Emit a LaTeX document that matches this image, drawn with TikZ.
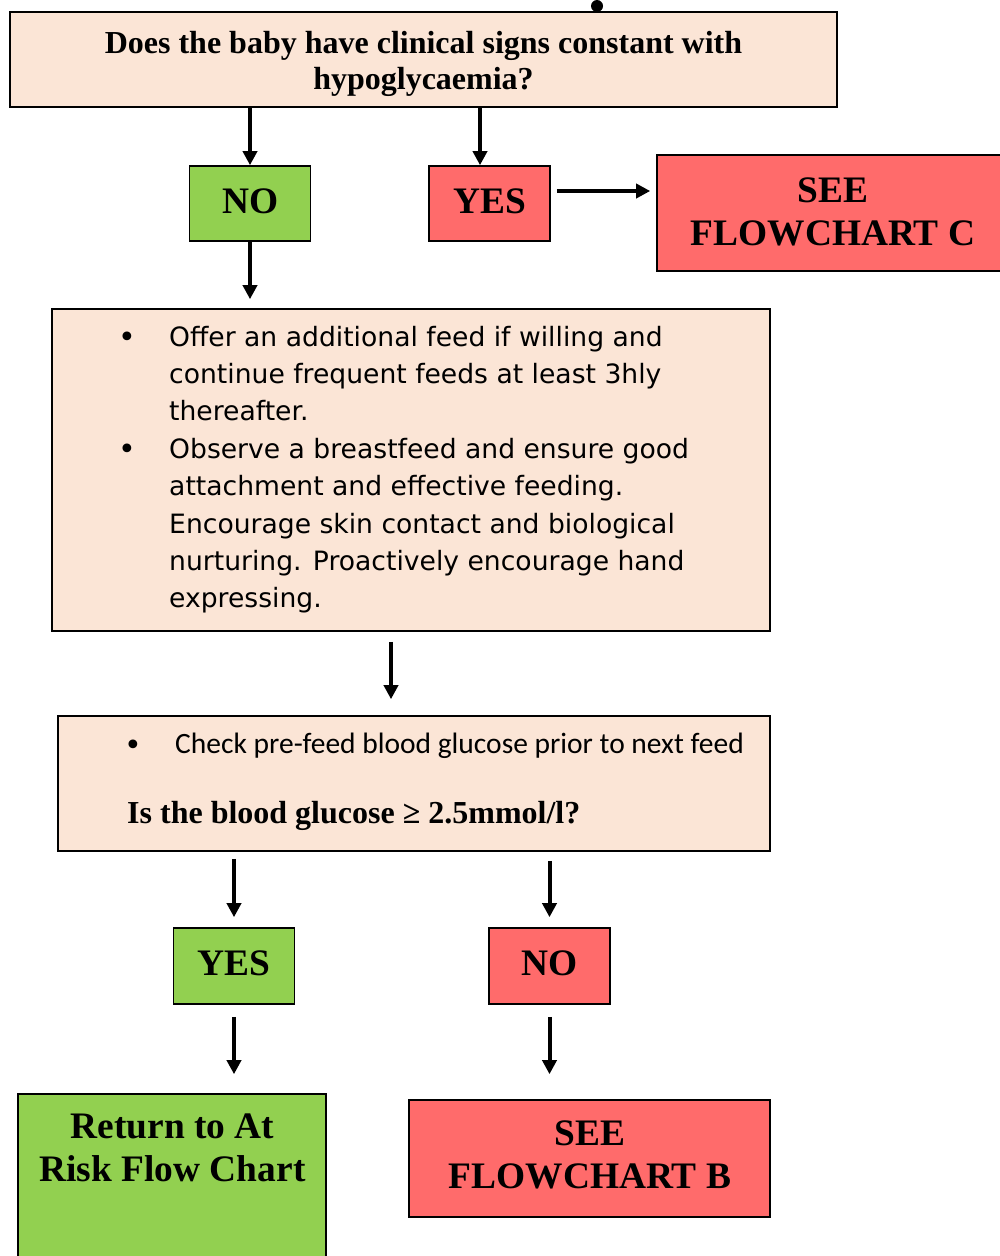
\documentclass[tikz,border=0pt]{standalone}
\usepackage{fontspec}
\setmainfont{Liberation Serif}
\newfontfamily\verdfont{DejaVu Sans}
\newfontfamily\calibfont{Carlito}
\usetikzlibrary{arrows.meta}
\definecolor{peach}{HTML}{FBE5D6}
\definecolor{redbox}{HTML}{FF6B6B}
\definecolor{greenbox}{HTML}{92D050}
\begin{document}
\begin{tikzpicture}[x=1pt,y=-1pt,
  box/.style={draw=black, line width=1.6pt, inner sep=0pt, rectangle},
  peachbox/.style={box, fill=peach},
  redb/.style={box, fill=redbox},
  greenb/.style={box, fill=greenbox},
  arr/.style={line width=4pt, -{Triangle[length=14pt,width=14pt]}},
  bigtxt/.style={font=\bfseries\fontsize{37.4}{43}\selectfont, inner sep=0pt, align=center},
  qtxt/.style={font=\bfseries\fontsize{32}{36}\selectfont, inner sep=0pt, align=center},
  bodytxt/.style={font=\verdfont\fontsize{26.6}{37.4}\selectfont, inner sep=0pt, align=left},
  bullet/.style={font=\verdfont\fontsize{30}{36}\selectfont, inner sep=0pt},
  caltxt/.style={font=\calibfont\fontsize{29.5}{35}\selectfont, inner sep=0pt}
]
\useasboundingbox (0,0) rectangle (1000,1256);
% boxes
\node[peachbox, minimum width=827pt, minimum height=95pt] (q) at (423.5,59.5) {};
\node[circle, fill=black, minimum size=12pt, inner sep=0pt] (dot) at (597,6) {};
\node[greenb, minimum width=121pt, minimum height=75pt] (no1) at (250,203.5) {};
\node[redb, minimum width=121pt, minimum height=75pt] (yes1) at (489.5,203.5) {};
\node[redb, minimum width=348pt, minimum height=116pt] (seec) at (831,213) {};
\node[peachbox, minimum width=718pt, minimum height=322pt] (big) at (411,470) {};
\node[peachbox, minimum width=712pt, minimum height=135pt] (box2) at (414,783.5) {};
\node[greenb, minimum width=121pt, minimum height=76pt] (yes2) at (234,966) {};
\node[redb, minimum width=121pt, minimum height=76pt] (no2) at (549.5,966) {};
\node[greenb, minimum width=308pt, minimum height=176pt] (ret) at (172,1182) {};
\node[redb, minimum width=361pt, minimum height=117pt] (seeb) at (589.5,1158.5) {};
% texts (multi-line nodes: base anchor = baseline of last line)
\node[qtxt, anchor=base] (qt) at (423.5,89) {Does the baby have clinical signs constant with\\hypoglycaemia?};
\node[bigtxt, anchor=base] (no1t) at (251,213) {NO};
\node[bigtxt, anchor=base] (yes1t) at (490,213) {YES};
\node[bigtxt, anchor=base] (seect) at (833,245) {SEE\\FLOWCHART C};
\node[bullet, anchor=base] (b1) at (127,347) {•};
\node[bullet, anchor=base] (b2) at (127,459) {•};
\node[bodytxt, anchor=base west] (bt) at (169,607.8) {Offer an additional feed if willing and\\continue frequent feeds at least 3hly\\thereafter.\\Observe a breastfeed and ensure good\\attachment and effective feeding.\\Encourage skin contact and biological\\nurturing. Proactively encourage hand\\expressing.};
\node[bullet, anchor=base] (b3) at (133,755) {•};
\node[caltxt, anchor=base west] (ct) at (175,753) {Check pre-feed blood glucose prior to next feed};
\node[qtxt, anchor=base west] (isq) at (127,823) {Is the blood glucose ≥ 2.5mmol/l?};
\node[bigtxt, anchor=base] (yes2t) at (234,975) {YES};
\node[bigtxt, anchor=base] (no2t) at (550,975) {NO};
\node[bigtxt, anchor=base] (rett) at (172.5,1181.5) {Return to At\\Risk Flow Chart};
\node[bigtxt, anchor=base] (seebt) at (590,1188) {SEE\\FLOWCHART B};
% connectors
\coordinate (ya) at (480,0);
\coordinate (ry) at (0,191);
\coordinate (c3) at (391,0);
\draw[arr] (q.south -| no1.north) -- (no1.north);
\draw[arr] (q.south -| ya) -- (yes1.north -| ya);
\draw[arr, shorten <=6pt, shorten >=6pt] (yes1.east |- ry) -- (seec.west |- ry);
\draw[arr, shorten >=9pt] (no1.south) -- (no1.south |- big.north);
\draw[arr, shorten <=10pt, shorten >=16pt] (big.south -| c3) -- (box2.north -| c3);
\draw[arr, shorten <=7pt, shorten >=10pt] (box2.south -| yes2.north) -- (yes2.north);
\draw[arr, shorten <=9pt, shorten >=10pt] (box2.south -| no2.north) -- (no2.north);
\draw[arr, shorten <=12pt, shorten >=19pt] (yes2.south) -- (yes2.south |- ret.north);
\draw[arr, shorten <=12pt, shorten >=25pt] (no2.south) -- (no2.south |- seeb.north);
\end{tikzpicture}
\end{document}
